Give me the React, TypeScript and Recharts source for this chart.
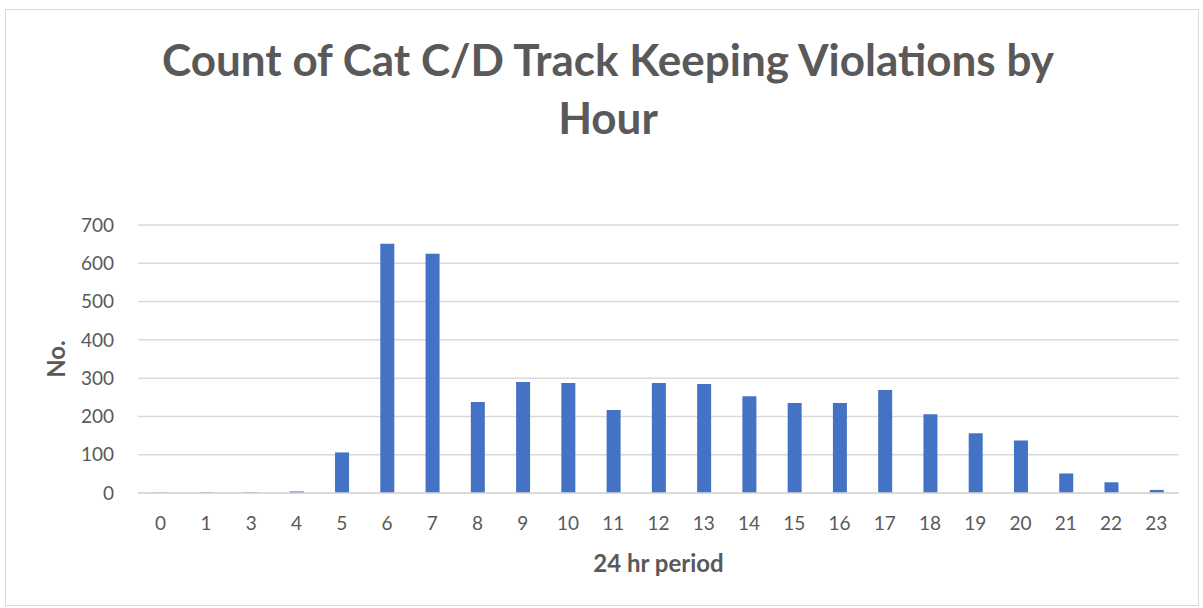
import { BarChart, Bar, XAxis, YAxis, CartesianGrid } from "recharts";

const hours = ["0", "1", "3", "4", "5", "6", "7", "8", "9", "10", "11", "12", "13", "14", "15", "16", "17", "18", "19", "20", "21", "22", "23"];
const counts = [1, 2, 2, 4, 106, 651, 625, 238, 290, 287, 217, 287, 285, 253, 235, 235, 269, 206, 156, 137, 51, 28, 8];
const yTicks = [0, 100, 200, 300, 400, 500, 600, 700];

const titleLines = ["Count of Cat C/D Track Keeping Violations by", "Hour"];

const FONT = "Lato, 'Open Sans', sans-serif";
const TEXT = "#595959";

export default function App() {
  const data = hours.map((h, i) => ({ hour: h, count: counts[i] }));

  return (
    <div style={{ position: "absolute", left: 0, top: 0, width: 1203, height: 608, background: "#fff", fontFamily: FONT }}>
      <div
        style={{
          position: "absolute",
          left: 5,
          top: 9,
          width: 1203 - 5 - 4,
          height: 608 - 9 - 2,
          border: "1px solid #d9d9d9",
          boxSizing: "border-box",
        }}
      />
      <div
        style={{
          position: "absolute",
          left: 0,
          top: 30,
          width: 1216,
          textAlign: "center",
          color: TEXT,
          fontWeight: 700,
          fontSize: 44,
          lineHeight: "58px",
        }}
      >
        {titleLines.map((t) => (
          <div key={t}>{t}</div>
        ))}
      </div>
      <div style={{ position: "absolute", left: 0, top: 0 }}>
        <BarChart width={1203} height={608} data={data} margin={{ top: 225, right: 24, left: 0, bottom: 0 }} barSize={14}>
          <CartesianGrid vertical={false} stroke="#d9d9d9" strokeWidth={1.5} />
          <XAxis
            dataKey="hour"
            height={115}
            tickLine={false}
            axisLine={{ stroke: "#d9d9d9", strokeWidth: 1.5 }}
            tickSize={0}
            tickMargin={24}
            interval={0}
            tick={{ fill: TEXT, fontSize: 19, fontFamily: FONT }}
            label={{ value: "24 hr period", position: "insideBottom", offset: 36, fill: TEXT, fontSize: 24, fontWeight: 700, fontFamily: FONT }}
          />
          <YAxis
            width={138}
            domain={[0, 700]}
            ticks={yTicks}
            tickLine={false}
            axisLine={false}
            tickSize={0}
            tickMargin={24}
            tick={{ fill: TEXT, fontSize: 19, fontFamily: FONT }}
            label={{ value: "No.", angle: -90, position: "insideLeft", offset: 56, fill: TEXT, fontSize: 24, fontWeight: 700, fontFamily: FONT, style: { textAnchor: "middle" } }}
          />
          <Bar dataKey="count" fill="#4472C4" isAnimationActive={false} />
        </BarChart>
      </div>
    </div>
  );
}
